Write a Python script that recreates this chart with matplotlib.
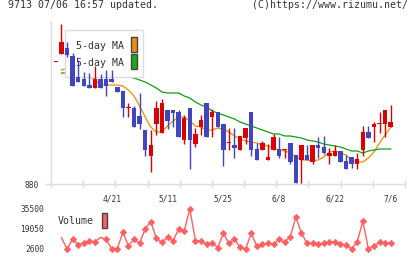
import matplotlib
matplotlib.use('Agg')
import matplotlib.pyplot as plt
import numpy as np
from matplotlib.patches import Rectangle

# candles (day 0 = 4/7 ... day 60 = 7/6)
opens  = [1002, 1010, 1016, 1008, 987, 985, 979, 976, 985, 985, 985, 977, 973, 956, 956, 948,
          934, 908, 940, 931, 954, 954, 952, 924, 956, 920, 937, 961, 947, 952, 940,
          921, 919, 914, 926, 952, 915, 914, 904, 914, 915, 914, 921, 909, 904, 909,
          902, 919, 917, 908, 908, 913, 903, 907, 900, 914, 932, 937, 940, 940, 937]
highs  = [1002, 1040, 1022, 1011, 1004, 992, 991, 998, 990, 994, 994, 977, 973, 961, 958, 971,
          934, 934, 963, 965, 954, 954, 954, 949, 956, 936, 949, 961, 955, 952, 940,
          936, 936, 928, 936, 952, 921, 923, 920, 930, 927, 915, 921, 909, 919, 919,
          919, 927, 928, 916, 919, 913, 909, 907, 911, 938, 938, 942, 952, 954, 959]
lows   = [1002, 1010, 1007, 978, 982, 978, 976, 976, 976, 968, 982, 972, 947, 947, 937, 935,
          908, 892, 929, 931, 935, 937, 927, 920, 895, 917, 929, 927, 927, 937, 898,
          914, 906, 914, 920, 908, 904, 914, 904, 914, 906, 906, 900, 881, 881, 904,
          900, 906, 910, 900, 908, 902, 895, 896, 895, 908, 926, 922, 931, 927, 937]
closes = [1002, 1022, 1009, 978, 982, 978, 976, 985, 976, 978, 982, 972, 956, 956, 937, 940,
          914, 919, 956, 961, 943, 951, 927, 946, 924, 930, 944, 927, 952, 937, 914,
          921, 916, 928, 936, 914, 904, 921, 907, 927, 908, 915, 902, 881, 919, 904,
          919, 916, 911, 911, 913, 902, 895, 900, 905, 932, 926, 940, 940, 954, 942]

# moving averages and volume for days 1..60
ma5 = [994, 996, 994, 992, 990, 988, 984, 979, 979, 979, 979, 978, 974, 968, 958,
       947, 937, 932, 932, 938, 943, 947, 947, 943, 938, 937, 934, 934, 936, 935,
       932, 928, 925, 923, 922, 921, 919, 918, 916, 914, 913, 911, 907, 904, 904,
       903, 904, 907, 912, 913, 911, 909, 904, 902, 902, 906, 912, 921, 929, 937]
ma25 = [991, 991, 991, 990, 990, 990, 989, 989, 989, 988, 988, 988, 987, 986, 984,
        982, 979, 976, 972, 971, 971, 971, 968, 966, 962, 959, 957, 953, 951, 949,
        947, 945, 942, 940, 938, 936, 934, 932, 930, 930, 928, 928, 927, 926, 924,
        923, 922, 920, 919, 918, 917, 915, 913, 913, 911, 913, 914, 915, 915, 915]
volumes = [11900, 2700, 10600, 5900, 7800, 8900, 8600, 12100, 10600, 2700, 2900, 16300,
           5300, 10600, 7300, 19300, 25100, 11400, 8100, 12200, 9400, 19100, 17700, 35500,
           9400, 8900, 6500, 7800, 3700, 15500, 7300, 10800, 4000, 2600, 15500, 5100,
           6500, 7300, 6500, 10600, 8100, 12700, 28900, 15500, 7300, 7300, 6500, 7300,
           8600, 8600, 6500, 5900, 2700, 8600, 25400, 2700, 5300, 8100, 7300, 7300]

date_labels = ['4/21', '5/11', '5/25', '6/8', '6/22', '7/6']
date_pos = [10, 20, 30, 40, 50, 60]

RED = '#dd0000'
BLUE = '#4046c0'
ORANGE = '#f08c00'
GREEN = '#10a010'
VOLC = '#ff6060'
GRID = '#dddddd'
TXT = '#333333'
MONO = 'DejaVu Sans Mono'

W, H = 420, 259
fig = plt.figure(figsize=(W / 100, H / 100), dpi=100)
ax = fig.add_axes([51 / W, 1 - 184 / H, 354 / W, 163 / H])
vax = fig.add_axes([51 / W, 1 - 252 / H, 354 / W, 47 / H])


def box(target, x0, y0, x1, y1, fc, ec, z):
    # rectangle given in figure pixels (y measured from top)
    r = Rectangle((x0 / W, 1 - y1 / H), (x1 - x0) / W, (y1 - y0) / H, transform=fig.transFigure,
                  fc=fc, ec=ec, lw=1, zorder=z, clip_on=False)
    target.add_patch(r)


def label(target, x, y, s, ha, z):
    target.text(x / W, 1 - y / H, s, transform=fig.transFigure, ha=ha, va='center',
                fontsize=7.1, family=MONO, color=TXT, zorder=z)


days = np.arange(len(opens))
o = np.array(opens); c = np.array(closes)
cols = [RED if cc >= oo else BLUE for oo, cc in zip(o, c)]
ax.vlines(days, lows, highs, colors=cols, lw=1, zorder=3)
body = np.maximum(np.abs(c - o), 0.8)
ax.bar(days, body, bottom=np.minimum(o, c), width=0.8, color=cols, zorder=3)

xd = np.arange(1, 61)
ax.plot(xd, ma5, color=ORANGE, lw=0.9, zorder=2)
ax.plot(xd, ma25, color=GREEN, lw=0.9, zorder=2)

ax.set_xlim(-0.88, 62.56)
ax.set_ylim(880, 1043)
for s in ['top', 'right']:
    ax.spines[s].set_visible(False)
for s in ['left', 'bottom']:
    ax.spines[s].set_color(GRID)
    ax.spines[s].set_linewidth(1)
ax.set_xticks(np.linspace(-0.88, 62.56, 12))
ax.set_xticklabels([])
ax.tick_params(axis='x', which='major', direction='inout', length=6, color=GRID, width=1)
ax.set_xticks(date_pos, minor=True)
ax.set_xticklabels(date_labels, minor=True, fontsize=5.7, family=MONO, color=TXT)
ax.tick_params(axis='x', which='minor', length=0, pad=7.5)
ax.set_yticks([880])
ax.set_yticklabels(['880'], fontsize=5.7, family=MONO, color=TXT)
ax.tick_params(axis='y', length=4.3, color=GRID, width=1, pad=4.3)

# legend: over the MA lines, under the candles
box(ax, 65, 30, 143, 77, 'white', GRID, 2.5)
box(ax, 131, 37, 137, 52, '#f28c0f', '#444444', 2.6)
box(ax, 131, 54, 137, 69, '#1aaa1a', '#444444', 2.6)
label(ax, 124.5, 46, '5-day MA', 'right', 2.6)
label(ax, 124.5, 63, '25-day MA', 'right', 2.6)

# volume panel
marks = [i for i in range(len(volumes)) if i not in (0, 7)]
vax.plot(xd, volumes, color=VOLC, lw=1, marker='D', ms=3.2, mec=VOLC, mew=0.6,
         markevery=marks)
vax.set_xlim(-0.88, 62.56)
vax.set_ylim(132, 38790)
for s in vax.spines.values():
    s.set_visible(False)
vax.set_xticks([])
vax.set_yticks([2600, 19050, 35500])
vax.set_yticklabels(['2600', '19050', '35500'], fontsize=5.7, family=MONO, color=TXT)
vax.tick_params(axis='y', length=0, pad=5)
box(vax, 101.5, 213, 107.5, 228, VOLC, '#444444', 5)
label(vax, 58, 221.5, 'Volume', 'left', 5)

fig.text(8 / W, 1 - 5.5 / H, '9713 07/06 16:57 updated.', fontsize=7.1, family=MONO,
         color=TXT, va='center')
fig.text(408 / W, 1 - 5.5 / H, '(C)https://www.rizumu.net/', fontsize=7.1, family=MONO,
         color=TXT, va='center', ha='right')

fig.savefig('out.png', dpi=100)
